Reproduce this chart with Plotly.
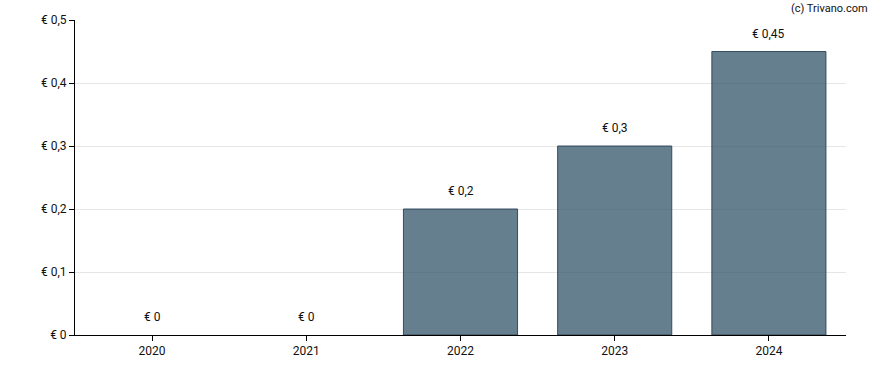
import plotly.graph_objects as go

years = ["2020", "2021", "2022", "2023", "2024"]
values = [0, 0, 0.2, 0.3, 0.45]
y_ticks = [0, 0.1, 0.2, 0.3, 0.4, 0.5]
y_tick_labels = ["€ 0", "€ 0,1", "€ 0,2", "€ 0,3", "€ 0,4", "€ 0,5"]

labels = ["€ " + ("%g" % v).replace(".", ",") for v in values]

fig = go.Figure()
fig.add_trace(go.Bar(
    x=years, y=values,
    marker=dict(color="rgba(47,82,104,0.74)",
                line=dict(color="rgba(40,65,85,0.9)",
                          width=[0 if v == 0 else 1 for v in values])),
    hoverinfo="skip",
))

annotations = [dict(
    x=i, y=v, text=t, xref="x", yref="y",
    showarrow=False, yanchor="bottom", yshift=9,
    font=dict(size=12, color="#111111"),
) for i, (v, t) in enumerate(zip(values, labels))]

annotations.append(dict(
    text="(c) Trivano.com", xref="paper", yref="paper",
    x=1.0, y=1.0, xanchor="right", yanchor="middle", yshift=12, xshift=24,
    showarrow=False, font=dict(size=11, color="#111111"),
))

fig.update_layout(
    width=888, height=370,
    margin=dict(l=75, r=42, t=20, b=35),
    plot_bgcolor="white", paper_bgcolor="white",
    font=dict(family="Roboto, Arial, sans-serif", size=12, color="#111111"),
    bargap=0.26,
    showlegend=False,
    xaxis=dict(
        type="category", range=[-0.5, 4.5],
        showline=True, linecolor="black", linewidth=1,
        ticks="outside", ticklen=5, tickcolor="black",
        showgrid=False,
    ),
    yaxis=dict(
        range=[0, 0.5], tickvals=y_ticks, ticktext=y_tick_labels,
        showline=True, linecolor="black", linewidth=1,
        ticks="outside", ticklen=5, tickcolor="black",
        showgrid=True, gridcolor="#e6e6e6", gridwidth=1,
        zeroline=False,
    ),
    annotations=annotations,
)

fig.write_html("out.html", config={"displayModeBar": False},
               post_script="document.body.style.margin='0';")
